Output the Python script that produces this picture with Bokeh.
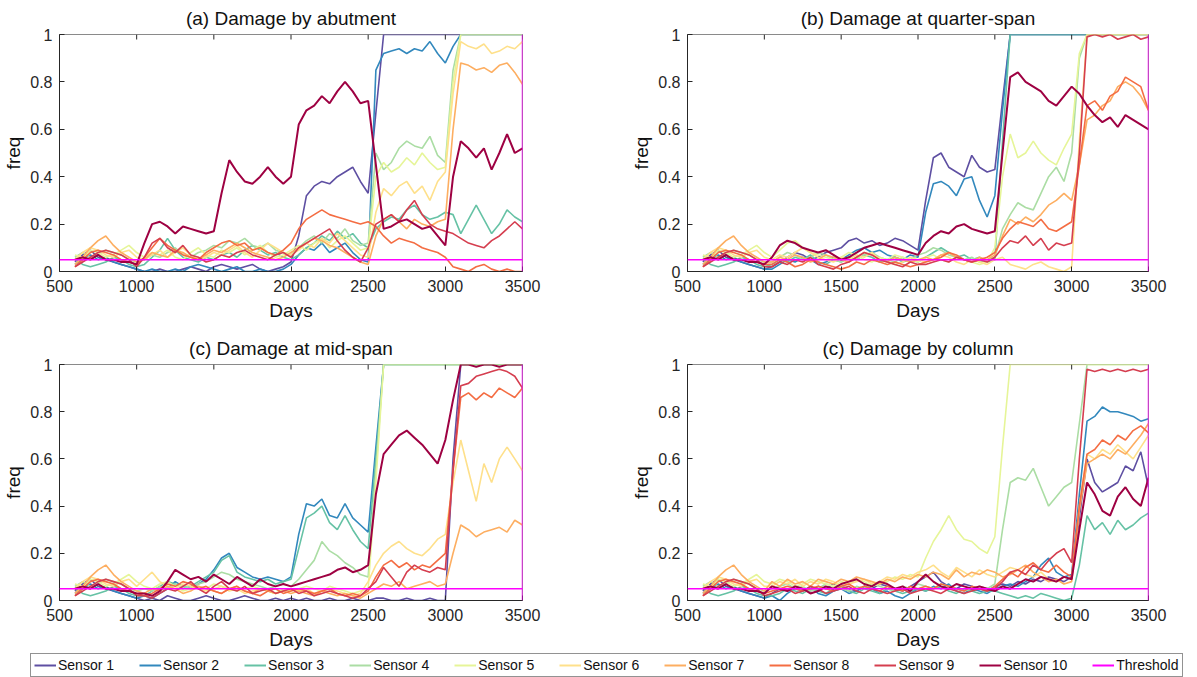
import math
from bokeh.plotting import figure
from bokeh.models import Span, Label, Legend, LegendItem, FixedTicker, Range1d, CustomJSTickFormatter
from bokeh.layouts import column, row
from bokeh.embed import file_html
from bokeh.resources import INLINE

# ---------------- data ----------------
days = list(range(600, 3501, 50))
sensor_names = ["Sensor 1", "Sensor 2", "Sensor 3", "Sensor 4", "Sensor 5",
                "Sensor 6", "Sensor 7", "Sensor 8", "Sensor 9", "Sensor 10"]
sensor_colors = ["#5e4fa2", "#3288bd", "#66c2a5", "#abdda4", "#e6f598",
                 "#fee08b", "#fdae61", "#f46d43", "#d53e4f", "#9e0142"]
threshold = 0.05
threshold_label = "0.05"
threshold_name = "Threshold"
threshold_color = "#ff00ff"
x_ticks = [500, 1000, 1500, 2000, 2500, 3000, 3500]
y_ticks = [0, 0.2, 0.4, 0.6, 0.8, 1]
titles = ["(a) Damage by abutment", "(b) Damage at quarter-span",
          "(c) Damage at mid-span", "(c) Damage by column"]

# (a) Damage by abutment
a1 = [0.04,0.07,0.09,0.06,0.05,0.04,0.03,0.02,0.01, 0.00,0.00,0.01,0.00,0.00,0.01,0.02,0.01,0.00,0.02,0.03,0.02,0.01,0.02,0.03,0.01,0.00,0.01,0.02,0.04, 0.15,0.32,0.36,0.38,0.37,0.40,0.42,0.44,0.38,0.33, 0.67, 1,1,1,1,1,1,1,1,1,1,1,1,1,1,1,1,1,1,1]
a2 = [0.03,0.05,0.07,0.05,0.06,0.04,0.03,0.02,0.01, 0.00,0.01,0.00,0.00,0.01,0.00,0.02,0.03,0.02,0.01,0.00,0.01,0.02,0.00,0.00,0.01,0.00,0.00,0.01,0.03, 0.07,0.10,0.09,0.12,0.08,0.10,0.12,0.08,0.05,0.04, 0.85, 0.92,0.93,0.94,0.92,0.94,0.93,0.97,0.92,0.88,0.95,1,1,1,1,1,1,1,1,1]
a3 = [0.05,0.03,0.02,0.03,0.04,0.06,0.05,0.03,0.02, 0.03,0.06,0.09,0.14,0.09,0.06,0.05,0.04,0.06,0.05,0.07,0.08,0.06,0.09,0.11,0.09,0.07,0.08,0.06,0.05, 0.07,0.10,0.12,0.15,0.13,0.17,0.14,0.16,0.12,0.10, 0.18, 0.21,0.23,0.22,0.26,0.28,0.24,0.22,0.23,0.25,0.24,0.16,0.22,0.28,0.22,0.16,0.20,0.26,0.23,0.21]
a4 = [0.06,0.08,0.06,0.07,0.09,0.08,0.07,0.05,0.04, 0.05,0.07,0.06,0.08,0.10,0.07,0.06,0.08,0.09,0.11,0.10,0.13,0.12,0.14,0.11,0.10,0.12,0.09,0.08,0.07, 0.10,0.13,0.15,0.12,0.16,0.14,0.18,0.13,0.11,0.12, 0.50, 0.43,0.46,0.52,0.55,0.53,0.52,0.57,0.49,0.46,0.85,1,1,1,1,1,1,1,1,1]
a5 = [0.07,0.06,0.09,0.08,0.06,0.07,0.09,0.11,0.08, 0.06,0.08,0.07,0.09,0.06,0.05,0.08,0.10,0.07,0.06,0.09,0.08,0.10,0.07,0.09,0.11,0.08,0.06,0.07,0.09, 0.11,0.09,0.12,0.14,0.10,0.13,0.15,0.12,0.09,0.10, 0.40, 0.46,0.42,0.44,0.48,0.45,0.50,0.46,0.43,0.44,0.80,1,1,1,1,1,1,1,1,1]
a6 = [0.05,0.08,0.10,0.09,0.07,0.06,0.08,0.09,0.06, 0.05,0.07,0.09,0.06,0.08,0.10,0.07,0.05,0.06,0.08,0.07,0.09,0.11,0.08,0.06,0.09,0.12,0.10,0.08,0.07, 0.09,0.12,0.10,0.14,0.12,0.16,0.13,0.10,0.07,0.06, 0.25, 0.35,0.32,0.36,0.38,0.33,0.36,0.30,0.38,0.42,0.75,0.97,0.95,0.94,0.96,0.92,0.93,0.95,0.94,0.97]
a7 = [0.03,0.06,0.10,0.13,0.15,0.11,0.08,0.06,0.04, 0.05,0.08,0.07,0.06,0.09,0.08,0.06,0.05,0.07,0.09,0.08,0.10,0.12,0.10,0.08,0.07,0.06,0.05,0.06,0.08, 0.10,0.12,0.14,0.13,0.11,0.10,0.08,0.06,0.04,0.03, 0.15, 0.22,0.24,0.21,0.18,0.22,0.20,0.19,0.21,0.22,0.60,0.88,0.87,0.85,0.86,0.84,0.87,0.88,0.84,0.79]
a8 = [0.02,0.05,0.08,0.09,0.08,0.07,0.05,0.04,0.03, 0.06,0.10,0.14,0.11,0.09,0.07,0.06,0.05,0.08,0.10,0.12,0.13,0.11,0.12,0.09,0.10,0.08,0.07,0.09,0.12, 0.18,0.22,0.24,0.26,0.24,0.23,0.22,0.21,0.20,0.21, 0.19, 0.15,0.12,0.14,0.13,0.12,0.10,0.09,0.08,0.06,0.02,0.01,0.00,0.02,0.03,0.01,0.00,0.01,0.00,0.00]
a9 = [0.02,0.04,0.06,0.08,0.09,0.08,0.07,0.05,0.02, 0.06,0.12,0.14,0.10,0.08,0.11,0.07,0.06,0.04,0.05,0.07,0.06,0.08,0.09,0.07,0.06,0.05,0.07,0.08,0.06, 0.10,0.12,0.14,0.16,0.18,0.13,0.09,0.06,0.04,0.10, 0.20, 0.22,0.24,0.21,0.26,0.30,0.24,0.20,0.18,0.17,0.16,0.14,0.12,0.11,0.10,0.13,0.15,0.18,0.21,0.18]
a10 = [0.05,0.06,0.05,0.07,0.05,0.05,0.04,0.04,0.03, 0.12,0.20,0.21,0.19,0.16,0.19,0.18,0.17,0.16,0.17,0.33,0.47,0.42,0.38,0.37,0.40,0.44,0.40,0.37,0.40, 0.62,0.68,0.70,0.74,0.71,0.76,0.80,0.76,0.71,0.72, 0.45, 0.18,0.19,0.21,0.22,0.20,0.18,0.19,0.15,0.11,0.40,0.55,0.52,0.48,0.52,0.43,0.50,0.58,0.50,0.52]

# (b) Damage at quarter-span
b1 = [0.04,0.07,0.09,0.06,0.05,0.04,0.03,0.02,0.01, 0.02,0.04,0.06,0.08,0.07,0.05,0.06,0.08,0.09,0.10,0.13,0.14,0.12,0.13,0.11,0.12,0.14,0.13,0.11,0.09, 0.30,0.48,0.50,0.44,0.42,0.40,0.49,0.44,0.42,0.43, 0.72, 1,1,1,1,1,1,1,1,1,1,1,1,1,1,1,1,1,1,1]
b2 = [0.03,0.05,0.07,0.05,0.06,0.04,0.03,0.02,0.01, 0.01,0.03,0.05,0.04,0.06,0.05,0.03,0.04,0.06,0.05,0.07,0.09,0.10,0.08,0.09,0.07,0.06,0.05,0.07,0.06, 0.25,0.37,0.38,0.36,0.32,0.39,0.40,0.30,0.23,0.32, 0.68, 1,1,1,1,1,1,1,1,1,1,1,1,1,1,1,1,1,1,1]
b3 = [0.05,0.03,0.02,0.03,0.04,0.06,0.05,0.03,0.02, 0.03,0.05,0.04,0.06,0.05,0.07,0.04,0.03,0.05,0.04,0.06,0.05,0.07,0.06,0.04,0.05,0.06,0.04,0.05,0.04, 0.06,0.08,0.10,0.08,0.06,0.07,0.05,0.06,0.04,0.05, 0.55, 1,1,1,1,1,1,1,1,1,1,1,1,1,1,1,1,1,1,1]
b4 = [0.06,0.08,0.06,0.07,0.09,0.08,0.07,0.05,0.04, 0.04,0.06,0.08,0.07,0.05,0.06,0.08,0.07,0.05,0.04,0.06,0.05,0.07,0.08,0.06,0.05,0.04,0.06,0.05,0.07, 0.08,0.10,0.09,0.07,0.06,0.05,0.06,0.04,0.05,0.06, 0.18, 0.24,0.29,0.27,0.26,0.33,0.40,0.44,0.38,0.50,0.90,1,1,1,1,1,1,1,1,1]
b5 = [0.07,0.06,0.09,0.08,0.06,0.07,0.09,0.11,0.08, 0.06,0.09,0.12,0.13,0.10,0.08,0.07,0.06,0.05,0.06,0.08,0.07,0.05,0.04,0.06,0.05,0.07,0.06,0.05,0.04, 0.06,0.07,0.05,0.04,0.06,0.05,0.04,0.03,0.04,0.10, 0.40, 0.58,0.48,0.50,0.55,0.50,0.47,0.45,0.52,0.58,0.92,1,1,1,1,1,1,1,1,1]
b6 = [0.05,0.08,0.10,0.09,0.07,0.06,0.08,0.09,0.06, 0.05,0.07,0.06,0.08,0.10,0.08,0.06,0.05,0.04,0.06,0.05,0.07,0.06,0.08,0.05,0.04,0.03,0.04,0.06,0.05, 0.04,0.05,0.07,0.06,0.04,0.03,0.05,0.04,0.03,0.05, 0.06, 0.03,0.02,0.01,0.03,0.04,0.02,0.01,0.00,0.02,0.55,1,1,1,1,1,1,1,1,1]
b7 = [0.03,0.06,0.10,0.13,0.15,0.11,0.08,0.06,0.04, 0.04,0.06,0.05,0.07,0.06,0.04,0.05,0.07,0.06,0.05,0.04,0.06,0.08,0.07,0.05,0.04,0.06,0.05,0.04,0.05, 0.06,0.05,0.07,0.08,0.06,0.05,0.04,0.06,0.05,0.07, 0.15, 0.22,0.20,0.23,0.21,0.24,0.28,0.30,0.33,0.30,0.45,0.64,0.66,0.70,0.72,0.78,0.80,0.78,0.74,0.68]
b8 = [0.02,0.05,0.08,0.09,0.08,0.07,0.05,0.04,0.03, 0.03,0.05,0.04,0.02,0.03,0.05,0.04,0.03,0.02,0.01,0.02,0.04,0.03,0.05,0.04,0.03,0.04,0.03,0.02,0.03, 0.04,0.05,0.06,0.08,0.07,0.05,0.04,0.05,0.06,0.08, 0.14, 0.18,0.21,0.20,0.19,0.22,0.18,0.17,0.19,0.21,0.45,0.70,0.72,0.68,0.74,0.76,0.82,0.80,0.78,0.68]
b9 = [0.02,0.04,0.06,0.08,0.09,0.08,0.07,0.05,0.02, 0.02,0.04,0.03,0.05,0.04,0.06,0.03,0.02,0.01,0.03,0.04,0.06,0.08,0.07,0.05,0.04,0.03,0.02,0.04,0.03, 0.03,0.04,0.05,0.04,0.06,0.05,0.04,0.05,0.04,0.06, 0.10, 0.13,0.12,0.15,0.11,0.14,0.09,0.12,0.11,0.12,0.50,0.99,1.0,0.99,1.0,0.98,0.99,1.0,0.98,0.99]
b10 = [0.05,0.06,0.05,0.07,0.05,0.05,0.04,0.04,0.03, 0.06,0.11,0.13,0.12,0.10,0.09,0.08,0.09,0.07,0.05,0.06,0.08,0.10,0.11,0.12,0.11,0.10,0.09,0.08,0.07, 0.12,0.15,0.17,0.16,0.19,0.20,0.18,0.17,0.16,0.17, 0.50, 0.82,0.84,0.80,0.78,0.76,0.72,0.70,0.74,0.78,0.75,0.70,0.66,0.63,0.65,0.61,0.66,0.64,0.62,0.60]

# (c) Damage at mid-span
c1 = [0.04,0.07,0.09,0.06,0.05,0.04,0.03,0.02,0.01, 0.00,0.01,0.00,0.02,0.01,0.00,0.00,0.01,0.02,0.01,0.00,0.00,0.01,0.02,0.01,0.00,0.00,0.01,0.00,0.01, 0.00,0.01,0.00,0.00,0.01,0.00,0.00,0.01,0.00,0.00, 0.01, 0.01,0.00,0.00,0.01,0.00,0.00,0.01,0.00,0.00,0.60,1,1,1,1,1,1,1,1,1]
c2 = [0.03,0.05,0.07,0.05,0.06,0.04,0.03,0.02,0.01, 0.02,0.01,0.03,0.05,0.08,0.06,0.05,0.07,0.09,0.13,0.18,0.20,0.14,0.12,0.10,0.09,0.10,0.09,0.08,0.10, 0.28,0.41,0.40,0.43,0.36,0.35,0.41,0.35,0.32,0.29, 0.65, 1,1,1,1,1,1,1,1,1,1,1,1,1,1,1,1,1,1,1]
c3 = [0.05,0.03,0.02,0.03,0.04,0.06,0.05,0.03,0.02, 0.02,0.04,0.06,0.08,0.07,0.05,0.06,0.08,0.10,0.12,0.17,0.19,0.12,0.10,0.09,0.08,0.09,0.07,0.08,0.09, 0.22,0.35,0.37,0.40,0.33,0.30,0.36,0.30,0.25,0.22, 0.60, 1,1,1,1,1,1,1,1,1,1,1,1,1,1,1,1,1,1,1]
c4 = [0.06,0.08,0.06,0.07,0.09,0.08,0.07,0.05,0.04, 0.05,0.04,0.06,0.05,0.07,0.06,0.05,0.07,0.08,0.10,0.12,0.11,0.09,0.08,0.07,0.06,0.05,0.06,0.07,0.06, 0.09,0.13,0.17,0.25,0.21,0.19,0.16,0.14,0.11,0.10, 0.55, 1,1,1,1,1,1,1,1,1,1,1,1,1,1,1,1,1,1,1]
c5 = [0.07,0.06,0.09,0.08,0.06,0.07,0.09,0.11,0.08, 0.06,0.05,0.07,0.08,0.06,0.04,0.05,0.06,0.05,0.07,0.06,0.05,0.04,0.05,0.06,0.05,0.04,0.03,0.05,0.04, 0.05,0.06,0.05,0.04,0.06,0.05,0.04,0.03,0.04,0.05, 0.50, 1,1,1,1,1,1,1,1,1,1,1,1,1,1,1,1,1,1,1]
c6 = [0.05,0.08,0.10,0.09,0.07,0.06,0.08,0.09,0.06, 0.09,0.12,0.08,0.06,0.05,0.07,0.06,0.05,0.04,0.05,0.06,0.04,0.05,0.03,0.04,0.05,0.04,0.03,0.04,0.05, 0.04,0.05,0.03,0.04,0.05,0.04,0.03,0.02,0.03,0.08, 0.15, 0.20,0.23,0.25,0.22,0.20,0.19,0.22,0.26,0.28,0.50,0.68,0.55,0.42,0.58,0.50,0.60,0.65,0.60,0.55]
c7 = [0.03,0.06,0.10,0.13,0.15,0.11,0.08,0.06,0.04, 0.03,0.05,0.04,0.06,0.05,0.03,0.04,0.06,0.05,0.04,0.03,0.05,0.06,0.04,0.03,0.05,0.04,0.03,0.04,0.03, 0.04,0.03,0.02,0.04,0.03,0.02,0.03,0.02,0.01,0.03, 0.05, 0.07,0.06,0.08,0.05,0.06,0.07,0.08,0.06,0.07,0.20,0.32,0.30,0.27,0.29,0.30,0.31,0.29,0.34,0.32]
c8 = [0.02,0.05,0.08,0.09,0.08,0.07,0.05,0.04,0.03, 0.02,0.03,0.05,0.07,0.06,0.08,0.07,0.05,0.06,0.04,0.03,0.05,0.06,0.04,0.03,0.02,0.04,0.05,0.03,0.04, 0.05,0.04,0.03,0.04,0.05,0.03,0.02,0.03,0.02,0.04, 0.10, 0.15,0.17,0.14,0.16,0.13,0.15,0.14,0.17,0.20,0.55,0.86,0.88,0.85,0.88,0.86,0.90,0.88,0.86,0.90]
c9 = [0.02,0.04,0.06,0.08,0.09,0.08,0.07,0.05,0.02, 0.02,0.01,0.03,0.05,0.04,0.06,0.08,0.05,0.03,0.06,0.08,0.05,0.04,0.06,0.03,0.04,0.05,0.03,0.04,0.05, 0.03,0.04,0.02,0.03,0.04,0.03,0.02,0.01,0.02,0.05, 0.08, 0.14,0.10,0.06,0.12,0.15,0.13,0.12,0.14,0.13,0.55,0.91,0.92,0.95,0.96,0.97,0.98,0.97,0.95,0.90]
c10 = [0.05,0.06,0.05,0.07,0.05,0.05,0.04,0.04,0.03, 0.03,0.02,0.04,0.08,0.13,0.11,0.09,0.10,0.08,0.11,0.09,0.07,0.10,0.08,0.06,0.09,0.07,0.06,0.07,0.06, 0.07,0.08,0.09,0.10,0.11,0.13,0.14,0.12,0.13,0.15, 0.45, 0.62,0.66,0.70,0.72,0.69,0.66,0.62,0.58,0.68,0.85,1,1,0.99,1,1,0.99,1,1,1]

# (d) Damage by column
d1 = [0.04,0.07,0.09,0.06,0.05,0.04,0.03,0.02,0.01, 0.03,0.05,0.04,0.06,0.05,0.04,0.06,0.05,0.07,0.06,0.05,0.04,0.06,0.05,0.07,0.06,0.05,0.04,0.06,0.08, 0.10,0.12,0.08,0.06,0.05,0.07,0.06,0.05,0.04,0.06, 0.07, 0.06,0.08,0.07,0.09,0.08,0.10,0.09,0.08,0.10,0.35,0.60,0.50,0.46,0.48,0.50,0.57,0.55,0.63,0.48]
d2 = [0.03,0.05,0.07,0.05,0.06,0.04,0.03,0.02,0.01, 0.02,0.00,0.03,0.05,0.04,0.06,0.03,0.02,0.04,0.05,0.03,0.04,0.06,0.05,0.03,0.04,0.02,0.01,0.03,0.05, 0.04,0.06,0.05,0.07,0.04,0.03,0.05,0.04,0.03,0.05, 0.06, 0.07,0.06,0.08,0.10,0.15,0.18,0.12,0.10,0.11,0.45,0.76,0.78,0.82,0.80,0.80,0.79,0.78,0.76,0.77]
d3 = [0.05,0.03,0.02,0.03,0.04,0.06,0.05,0.03,0.02, 0.02,0.03,0.05,0.04,0.03,0.05,0.04,0.03,0.05,0.06,0.04,0.03,0.05,0.04,0.03,0.05,0.04,0.03,0.04,0.05, 0.04,0.05,0.06,0.04,0.03,0.05,0.04,0.03,0.04,0.04, 0.03, 0.02,0.01,0.02,0.01,0.03,0.02,0.01,0.00,0.01,0.15,0.36,0.30,0.33,0.28,0.34,0.30,0.32,0.35,0.37]
d4 = [0.06,0.08,0.06,0.07,0.09,0.08,0.07,0.05,0.04, 0.05,0.06,0.07,0.05,0.06,0.04,0.05,0.07,0.06,0.05,0.04,0.06,0.05,0.07,0.06,0.05,0.04,0.06,0.05,0.07, 0.06,0.05,0.07,0.06,0.05,0.04,0.05,0.06,0.05,0.07, 0.30, 0.50,0.52,0.51,0.56,0.48,0.40,0.44,0.48,0.50,0.75,1,1,1,1,1,1,1,1,1]
d5 = [0.07,0.06,0.09,0.08,0.06,0.07,0.09,0.11,0.08, 0.07,0.09,0.08,0.06,0.07,0.09,0.08,0.07,0.06,0.08,0.07,0.09,0.08,0.06,0.07,0.08,0.10,0.09,0.11,0.10, 0.18,0.25,0.30,0.36,0.30,0.26,0.25,0.22,0.20,0.27, 0.65, 1,1,1,1,1,1,1,1,1,1,1,1,1,1,1,1,1,1,1]
d6 = [0.05,0.08,0.10,0.09,0.07,0.06,0.08,0.09,0.06, 0.06,0.08,0.07,0.09,0.06,0.08,0.07,0.09,0.08,0.06,0.07,0.08,0.09,0.07,0.08,0.10,0.09,0.11,0.10,0.12, 0.13,0.15,0.12,0.10,0.14,0.12,0.10,0.13,0.11,0.10, 0.12, 0.14,0.13,0.11,0.10,0.12,0.09,0.08,0.10,0.09,0.40,0.62,0.60,0.64,0.62,0.66,0.63,0.60,0.65,0.70]
d7 = [0.03,0.06,0.10,0.13,0.15,0.11,0.08,0.06,0.04, 0.08,0.06,0.09,0.07,0.08,0.06,0.09,0.08,0.07,0.09,0.08,0.10,0.09,0.08,0.07,0.09,0.08,0.10,0.09,0.11, 0.10,0.12,0.11,0.09,0.13,0.10,0.12,0.11,0.13,0.12, 0.10, 0.11,0.13,0.15,0.12,0.10,0.08,0.09,0.07,0.08,0.38,0.58,0.60,0.62,0.60,0.64,0.62,0.66,0.70,0.75]
d8 = [0.02,0.05,0.08,0.09,0.08,0.07,0.05,0.04,0.03, 0.04,0.05,0.06,0.05,0.04,0.05,0.06,0.05,0.04,0.06,0.07,0.05,0.06,0.05,0.04,0.06,0.05,0.04,0.06,0.05, 0.06,0.05,0.07,0.06,0.05,0.04,0.06,0.05,0.04,0.06, 0.09, 0.12,0.10,0.14,0.16,0.13,0.12,0.15,0.12,0.10,0.40,0.62,0.64,0.68,0.66,0.70,0.68,0.72,0.74,0.71]
d9 = [0.02,0.04,0.06,0.08,0.09,0.08,0.07,0.05,0.02, 0.03,0.04,0.05,0.03,0.04,0.06,0.05,0.03,0.04,0.05,0.06,0.04,0.03,0.05,0.04,0.03,0.04,0.05,0.03,0.04, 0.05,0.04,0.03,0.05,0.04,0.03,0.04,0.05,0.04,0.05, 0.08, 0.12,0.13,0.11,0.15,0.13,0.17,0.20,0.22,0.16,0.60,0.98,0.97,0.98,0.97,0.98,0.97,0.98,0.97,0.98]
d10 = [0.05,0.06,0.05,0.07,0.05,0.05,0.04,0.04,0.03, 0.06,0.05,0.04,0.06,0.05,0.03,0.04,0.06,0.05,0.07,0.08,0.09,0.07,0.06,0.08,0.07,0.05,0.06,0.04,0.08, 0.11,0.08,0.06,0.05,0.07,0.06,0.05,0.06,0.05,0.04, 0.06, 0.05,0.07,0.09,0.08,0.10,0.09,0.08,0.10,0.09,0.30,0.50,0.45,0.38,0.36,0.44,0.48,0.43,0.40,0.52]

panel_a = [a1, a2, a3, a4, a5, a6, a7, a8, a9, a10]
panel_b = [b1, b2, b3, b4, b5, b6, b7, b8, b9, b10]
panel_c = [c1, c2, c3, c4, c5, c6, c7, c8, c9, c10]
panel_d = [d1, d2, d3, d4, d5, d6, d7, d8, d9, d10]
for pnl in (panel_a, panel_b, panel_c, panel_d):
    for s in pnl:
        assert len(s) == len(days), len(s)

FONT = "Liberation Sans"
AXIS_COLOR = "#262626"
BOX_COLOR = "#8a8a8a"


def make_panel(title, series, width, height, bl, br, bt, bb):
    p = figure(width=width, height=height, x_range=Range1d(500, 3500), y_range=Range1d(0, 1),
               output_backend="svg", toolbar_location=None,
               min_border_left=bl, min_border_right=br, min_border_top=bt, min_border_bottom=bb)
    p.title.text = title
    p.title.align = "center"
    p.title.text_font = FONT
    p.title.text_font_size = "19px"
    p.title.text_font_style = "normal"
    p.title.text_color = "#111111"
    p.title.standoff = 11
    p.grid.visible = False
    p.outline_line_color = BOX_COLOR
    p.outline_line_width = 1
    p.background_fill_color = "white"
    p.border_fill_color = "white"

    p.xaxis.ticker = FixedTicker(ticks=x_ticks)
    p.yaxis.ticker = FixedTicker(ticks=y_ticks)
    p.yaxis.formatter = CustomJSTickFormatter(code="return String(Number(tick.toFixed(2)));")
    for ax in (p.xaxis[0], p.yaxis[0]):
        ax.major_tick_in = 5
        ax.major_tick_out = 0
        ax.minor_tick_line_color = None
        ax.axis_line_color = AXIS_COLOR
        ax.major_tick_line_color = AXIS_COLOR
        ax.major_label_text_font = FONT
        ax.major_label_text_font_size = "16px"
        ax.major_label_text_color = AXIS_COLOR
        ax.axis_label_text_font = FONT
        ax.axis_label_text_font_size = "19px"
        ax.axis_label_text_font_style = "normal"
        ax.axis_label_text_color = "#111111"
    p.xaxis.axis_label = "Days"
    p.yaxis.axis_label = "freq"
    p.xaxis.major_label_standoff = 8
    p.xaxis.axis_label_standoff = 5
    p.yaxis.major_label_standoff = 7
    p.yaxis.axis_label_standoff = 3

    for vals, col in zip(series, sensor_colors):
        lw = 2.0 if col == "#9e0142" else 1.6
        p.line(days, vals, line_color=col, line_width=lw)

    # mirrored tick marks on the top edge (box on)
    p.ray(x=x_ticks, y=[y_ticks[-1]] * len(x_ticks), length=5, length_units="screen",
          angle=-math.pi / 2, line_color=AXIS_COLOR, line_width=1)

    p.add_layout(Span(location=threshold, dimension="width", line_color=threshold_color, line_width=1.5))
    p.add_layout(Span(location=x_ticks[-1], dimension="height", line_color=threshold_color, line_width=1.5))
    p.add_layout(Label(x=x_ticks[-1], y=threshold, x_offset=6, text=threshold_label,
                       text_color=threshold_color, text_font=FONT, text_font_size="16px",
                       text_baseline="middle", text_align="left"))
    return p


p1 = make_panel(titles[0], panel_a, 628, 330, 59, 106, 33, 59)
p2 = make_panel(titles[1], panel_b, 569, 330, 59, 49, 33, 59)
p3 = make_panel(titles[2], panel_c, 628, 322, 59, 106, 33, 51)
p4 = make_panel(titles[3], panel_d, 569, 322, 59, 49, 33, 51)

# legend strip
leg = figure(width=1197, height=25, x_range=Range1d(0, 1), y_range=Range1d(0, 1),
             output_backend="svg", toolbar_location=None,
             min_border_left=0, min_border_right=0, min_border_top=0, min_border_bottom=0)
leg.axis.visible = False
leg.grid.visible = False
leg.outline_line_color = None
items = []
for name, vals, col in zip(sensor_names, panel_a, sensor_colors):
    r = leg.line(days, vals, line_color=col, line_width=2)
    items.append(LegendItem(label=name, renderers=[r]))
rt = leg.line([days[0], days[-1]], [threshold, threshold], line_color=threshold_color, line_width=2)
items.append(LegendItem(label=threshold_name, renderers=[rt]))
legend = Legend(items=items, orientation="horizontal", location=(30, 0),
                border_line_color=AXIS_COLOR, border_line_width=1,
                padding=3, margin=0, spacing=25, glyph_width=22, glyph_height=14,
                label_standoff=2, label_text_font=FONT,
                label_text_font_size="14px", label_height=14, label_text_color="#111111")
leg.add_layout(legend)

layout = column(row(p1, p2), row(p3, p4), leg)
open("out.html", "w").write(file_html(layout, INLINE))
